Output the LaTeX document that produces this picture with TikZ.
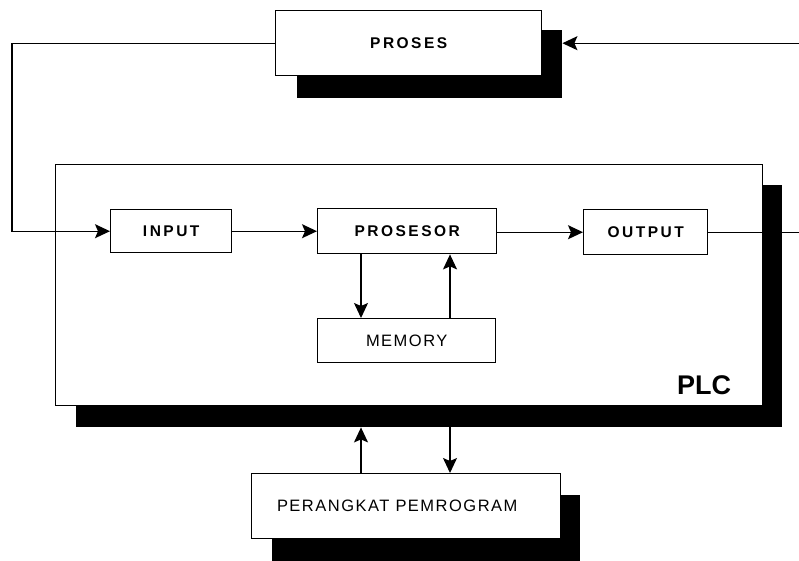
\documentclass[tikz,border=0pt]{standalone}
\usepackage{fontspec}
\setmainfont{Liberation Sans}
\newfontfamily\wideb[LetterSpace=16]{Liberation Sans}
\newfontfamily\widem[LetterSpace=9]{Liberation Sans}
\usetikzlibrary{arrows.meta}
\begin{document}
\begin{tikzpicture}[x=1pt,y=-1pt]
\tikzset{
  box/.style={draw, line width=1.4pt, fill=white, inner sep=0pt, anchor=north west},
  shadebox/.style={fill=black, inner sep=0pt, anchor=north west},
  wire/.style={line width=1.3pt},
  arr/.style={wire, -{Stealth[length=15pt,width=14pt,inset=3pt]}},
  bl/.style={font=\wideb\bfseries\fontsize{15.5}{17}\selectfont},
  ml/.style={font=\widem\fontsize{16.5}{18}\selectfont},
}
\useasboundingbox (0,0) rectangle (799,560);

% drop shadows
\node[shadebox, minimum width=265pt, minimum height=68pt] (prosesshadow) at (297,30) {};
\node[shadebox, minimum width=706pt, minimum height=242pt] (plcshadow) at (76,185) {};
\node[shadebox, minimum width=308pt, minimum height=70pt] (progshadow) at (272,495) {};

% PLC frame
\node[box, minimum width=707pt, minimum height=241pt] (plc) at (55,164) {};
\node[font=\bfseries\fontsize{27}{29}\selectfont] (plclabel) at (704,385) {PLC};

% reference points for the connectors
\coordinate (west1) at (12,42);
\coordinate (east1) at (799,42);
\coordinate (east2) at (799,230);
\coordinate (c1) at (361,0);
\coordinate (c2) at (450,0);

% process box
\node[box, minimum width=266pt, minimum height=65pt] (proses) at (275,10) {};
\node[bl] at (proses.center) {PROSES};

% inner blocks
\node[box, minimum width=121pt, minimum height=43pt] (input) at (110,209) {};
\node[bl] at (input.center) {INPUT};
\node[box, minimum width=179pt, minimum height=45pt] (prosesor) at (317,208) {};
\node[bl] at (prosesor.center) {PROSESOR};
\node[box, minimum width=124pt, minimum height=45pt] (output) at (583,209) {};
\node[bl] at (output.center) {OUTPUT};
\node[box, minimum width=178pt, minimum height=44pt] (memory) at (317,318) {};
\node[ml] at (memory.center) {MEMORY};

% programming device
\node[box, minimum width=309pt, minimum height=65pt] (prog) at (251,473) {};
\node[ml, anchor=center] at ([xshift=-9pt]prog.center) {PERANGKAT PEMROGRAM};

% connectors
\draw[wire] (proses.west) -- (west1 |- proses.west);
\draw[arr] (west1 |- proses.west) |- (input.west);
\draw[arr] (east1 |- proses.west) -- (prosesshadow.east |- proses.west);
\draw[arr] (input.east) -- (prosesor.west |- input.east);
\draw[arr] (prosesor.east |- output.west) -- (output.west);
\draw[wire] (output.east) -- (plc.east |- output.east);
\draw[wire] (plcshadow.east |- output.east) -- (east2 |- output.east);
\draw[arr] (prosesor.south -| c1) -- (memory.north -| c1);
\draw[arr] (memory.north -| c2) -- (prosesor.south -| c2);
\draw[arr] (prog.north -| c1) -- (plcshadow.south -| c1);
\draw[arr] (plcshadow.south -| c2) -- (prog.north -| c2);
\end{tikzpicture}
\end{document}
